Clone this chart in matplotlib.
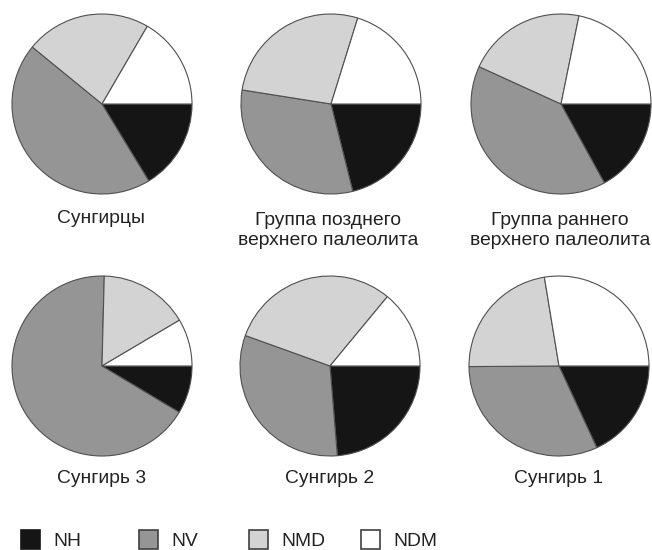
import matplotlib.pyplot as plt
from matplotlib.patches import Rectangle

plt.rcParams['font.family'] = ['Liberation Sans', 'DejaVu Sans']

# доли (%), по часовой стрелке от 3 часов: NH, NV, NMD, NDM
categories = ['NH', 'NV', 'NMD', 'NDM']
colors = ['#151515', '#959595', '#d3d3d3', '#ffffff']

titles = ['Сунгирцы', 'Группа позднего\nверхнего палеолита', 'Группа раннего\nверхнего палеолита',
          'Сунгирь 3', 'Сунгирь 2', 'Сунгирь 1']
sungirtsy = [16.3, 44.6, 22.5, 16.6]
late_up = [21.1, 31.4, 27.3, 20.2]
early_up = [17.0, 39.8, 21.4, 21.8]
sungir3 = [8.6, 66.8, 16.1, 8.5]
sungir2 = [23.7, 31.8, 30.5, 14.0]
sungir1 = [18.1, 31.8, 22.5, 27.6]
groups = [sungirtsy, late_up, early_up, sungir3, sungir2, sungir1]

W, H = 652, 550
fig = plt.figure(figsize=(W / 100, H / 100), dpi=100)
ax = fig.add_axes([0, 0, 1, 1])

# центры кругов в пикселях (y сверху вниз)
centers = [(102, 104), (331, 104), (561, 104), (102, 366), (330, 366), (559, 366)]
label_x = [101, 328, 560, 102, 330, 559]
label_y = [223, 245, 245, 483, 483, 483]  # базовая линия последней строки
R = 90
ftsize = 13.9

for vals, (cx, cy), title, lx, ly in zip(groups, centers, titles, label_x, label_y):
    ax.pie(vals, colors=colors, startangle=0, counterclock=False,
           center=(cx, H - cy), radius=R,
           wedgeprops=dict(edgecolor='#505050', linewidth=0.8))
    ax.text(lx, H - ly, title, ha='center', va='baseline', fontsize=ftsize,
            color='#222222', linespacing=1.2)

# легенда
leg_x = [21, 139, 249, 361]
for x, lab, c in zip(leg_x, categories, colors):
    ax.add_patch(Rectangle((x, H - 549), 19, 19, facecolor=c,
                           edgecolor='#151515' if c == '#151515' else '#404040', linewidth=1.2))
    ax.text(x + 32, H - 546, lab, ha='left', va='baseline', fontsize=ftsize, color='#222222')

ax.set_xlim(0, W)
ax.set_ylim(0, H)
ax.set_aspect('equal')
ax.axis('off')

plt.savefig('out.png', dpi=100)
